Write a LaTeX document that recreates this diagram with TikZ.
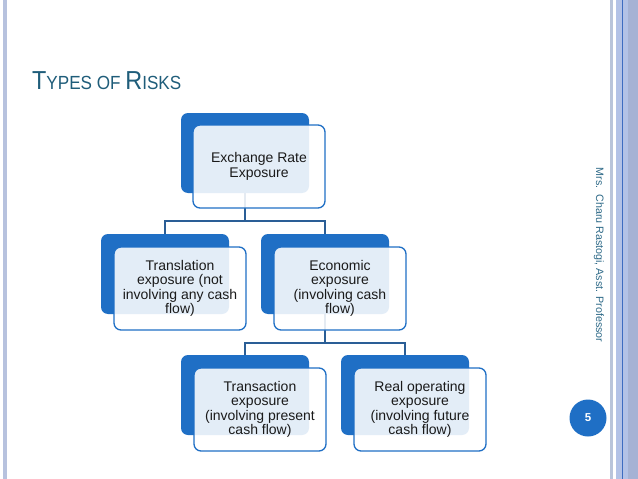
\documentclass[tikz,border=0pt]{standalone}
\usepackage{fontspec}
\usepackage{graphicx}
\setmainfont{Liberation Sans}
\definecolor{smblue}{HTML}{1F6FC5}
\definecolor{connblue}{HTML}{2A5E96}
\definecolor{titleteal}{HTML}{1F5D7A}
\definecolor{authorteal}{HTML}{2E6A88}
\definecolor{leftband}{HTML}{B7C2DE}
\definecolor{gutterline}{HTML}{B9C4DA}
\definecolor{gutterfill}{HTML}{B3C2E6}
\definecolor{gutterdark}{HTML}{3D6CC0}
\definecolor{boxtext}{HTML}{1A1A1A}
\tikzset{
  backbox/.style={draw=none, fill=smblue, rounded corners=7pt,
    minimum width=128pt, minimum height=80pt, inner sep=0pt},
  frontbox/.style={draw=smblue, line width=1.3pt, fill=white, fill opacity=0.88,
    text opacity=1, rounded corners=7pt, minimum width=132pt, minimum height=83pt,
    inner sep=0pt, align=center, text=boxtext,
    font=\fontsize{14}{14.3}\selectfont},
  conn/.style={draw=connblue, line width=1.3pt}
}
\begin{document}
\begin{tikzpicture}[x=1pt,y=-1pt]
\useasboundingbox (0,0) rectangle (638,479);
\fill[white] (0,0) rectangle (638,479);
% page borders
\fill[leftband] (3,0) rectangle (7,479);
\fill[gutterline] (610,0) rectangle (612.5,479);
\fill[gutterfill] (615.5,0) rectangle (638,479);
\fill[gutterfill!92!black] (628,0) rectangle (638,479);
\draw[gutterdark, line width=1.2pt] (622.5,0) -- (622.5,479);
% title
\node[anchor=base west, inner sep=0pt, text=titleteal] (title) at (32,89)
  {\scalebox{0.9}[1]{\fontsize{26}{26}\selectfont T\fontsize{19}{19}\selectfont YPES OF \fontsize{26}{26}\selectfont R\fontsize{19}{19}\selectfont ISKS}};
% connectors
\coordinate (j1) at (245,221);
\coordinate (j2) at (325,343);
% back boxes
\node[backbox] (bA) at (245,153) {};
\node[backbox] (bB) at (165,274) {};
\node[backbox] (bC) at (325,274) {};
\node[backbox] (bD) at (245,395) {};
\node[backbox] (bE) at (405,395) {};
\draw[conn] (bA.south) -- (j1);
\draw[conn] (j1) -| (bB.north);
\draw[conn] (j1) -| (bC.north);
\draw[conn] (bC.south) -- (j2);
\draw[conn] (j2) -| (bD.north);
\draw[conn] (j2) -| (bE.north);
% front boxes
\node[frontbox] (fA) at (259,166.5) {Exchange Rate\\Exposure};
\node[frontbox] (fB) at (180,288.5) {Translation\\exposure (not\\involving any cash\\flow)};
\node[frontbox] (fC) at (340,288.5) {Economic\\exposure\\(involving cash\\flow)};
\node[frontbox] (fD) at (260,409.5) {Transaction\\exposure\\(involving present\\cash flow)};
\node[frontbox] (fE) at (420,409.5) {Real operating\\exposure\\(involving future\\cash flow)};
% author
\node[rotate=-90, inner sep=0pt, text=authorteal, font=\fontsize{10.7}{12}\selectfont] (author) at (599,255)
  {Mrs.\ \ Charu Rastogi, Asst. Professor};
% page number
\node[circle, fill=smblue, minimum size=37pt, inner sep=0pt, text=white,
  font=\fontsize{11.5}{12}\selectfont\bfseries] (pnum) at (588,418) {5};
\end{tikzpicture}
\end{document}
